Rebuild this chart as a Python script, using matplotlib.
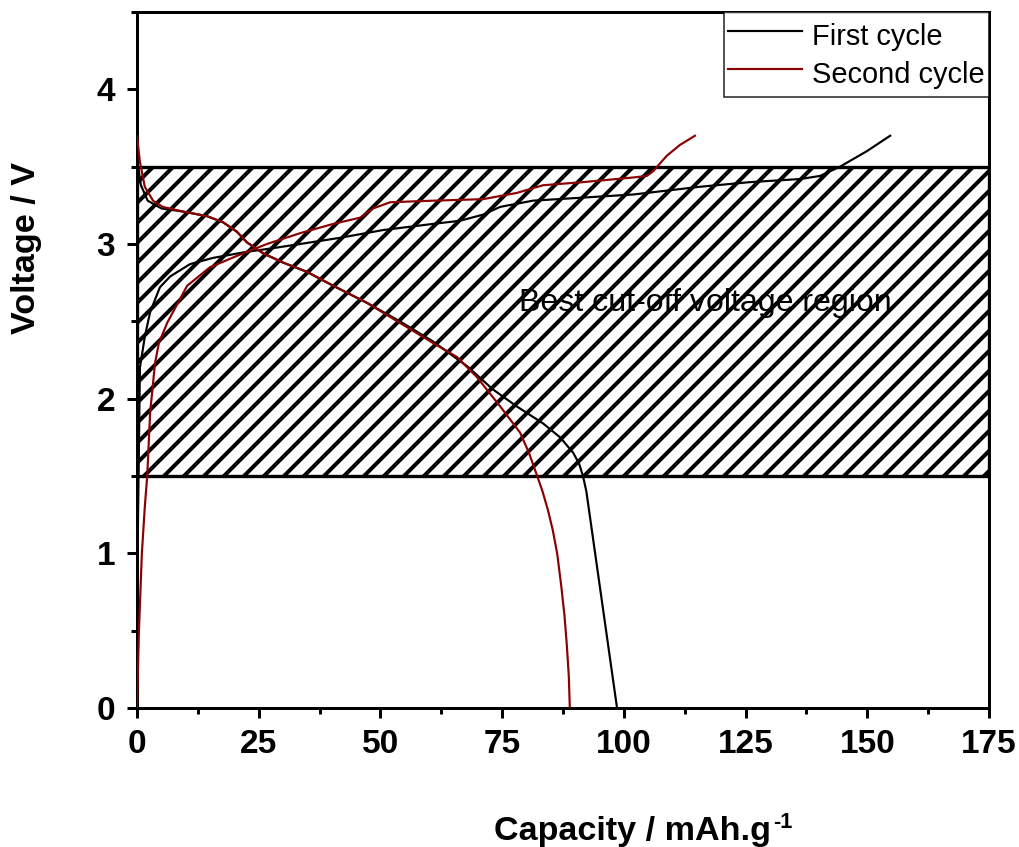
import numpy as np
import matplotlib
matplotlib.use('Agg')
import matplotlib.pyplot as plt
from matplotlib.patches import Rectangle
from matplotlib.ticker import MultipleLocator

plt.rcParams['font.family'] = ['Liberation Sans', 'DejaVu Sans']
plt.rcParams['hatch.linewidth'] = 2.4

# first cycle, charge and discharge (mAh/g, V)
cap1_chg = [0, 0.2, 0.6, 1.6, 2.7, 4.7, 6.8, 10.9, 15.6, 19.1, 22.6, 27.3, 33.5,
            41.7, 50.5, 60.8, 66.3, 71.1, 74.6, 81.3, 91.6, 101.9, 115.6, 125.9,
            136.2, 140.3, 144.4, 149.9, 154.7]
v1_chg = [0, 1.2, 2.2, 2.4, 2.56, 2.72, 2.79, 2.87, 2.91, 2.93, 2.95, 2.97, 3.0,
          3.04, 3.09, 3.13, 3.15, 3.19, 3.24, 3.28, 3.3, 3.32, 3.37, 3.4,
          3.42, 3.44, 3.5, 3.6, 3.7]
cap1_dis = [0, 0.8, 2.2, 5.0, 9.4, 14.4, 17.7, 20.5, 22.6, 25.9, 30.0, 34.9,
            40.3, 47.2, 54.0, 60.8, 64.3, 67.8, 73.1, 78.0, 83.4, 86.9, 89.6,
            90.8, 91.6, 92.3, 94.1, 96.35, 98.6]
v1_dis = [3.55, 3.38, 3.28, 3.23, 3.21, 3.18, 3.14, 3.08, 3.01, 2.94, 2.88, 2.82,
          2.73, 2.62, 2.5, 2.37, 2.29, 2.21, 2.06, 1.95, 1.84, 1.75, 1.65,
          1.58, 1.5, 1.4, 1.0, 0.5, 0]

# second cycle
cap2_chg = [0, 0.4, 1.0, 1.6, 2.1, 2.7, 3.7, 4.5, 6.2, 10.3, 15.0, 21.8, 26.7,
            33.5, 40.3, 45.8, 48.5, 52.0, 60.8, 71.1, 78.0, 83.4, 91.6, 101.9,
            104.7, 106.0, 108.8, 111.5, 114.6]
v2_chg = [0, 0.5, 1.0, 1.3, 1.5, 1.91, 2.23, 2.36, 2.49, 2.73, 2.85, 2.94, 3.0,
          3.07, 3.13, 3.17, 3.23, 3.27, 3.28, 3.29, 3.33, 3.38, 3.4, 3.43,
          3.44, 3.47, 3.57, 3.64, 3.7]
cap2_dis = [0, 0.6, 1.6, 3.3, 5.3, 9.4, 14.4, 17.7, 20.5, 22.6, 25.9, 30.0, 34.9,
            40.3, 47.2, 54.0, 60.8, 65.7, 69.8, 74.6, 78.7, 80.5, 82.2, 83.3,
            84.4, 85.4, 86.3, 87.1, 87.8, 88.3, 88.7, 88.9]
v2_dis = [3.7, 3.53, 3.37, 3.28, 3.24, 3.21, 3.18, 3.14, 3.08, 3.01, 2.94, 2.88,
          2.82, 2.73, 2.62, 2.49, 2.36, 2.27, 2.14, 1.95, 1.78, 1.65, 1.5, 1.4,
          1.28, 1.15, 1.0, 0.8, 0.6, 0.4, 0.2, 0]

band = (1.5, 3.5)

dpi = 120
W, H = 1019, 847
fig = plt.figure(figsize=(W / dpi, H / dpi), dpi=dpi)
ax = fig.add_axes([137 / W, 1 - 708 / H, (989 - 137) / W, (708 - 12) / H])

ax.text(116.7, 2.62, 'Best cut-off voltage region', fontsize=19.3,
        ha='center', va='center', zorder=1)
ax.add_patch(Rectangle((0, band[0]), 175, band[1] - band[0], fill=False,
                       hatch='//', edgecolor='black', lw=2.0, zorder=2))

c1 = 'black'
c2 = '#8b0000'
ax.plot(cap1_chg, v1_chg, color=c1, lw=1.3, zorder=3, label='First cycle')
ax.plot(cap1_dis, v1_dis, color=c1, lw=1.3, zorder=3)
ax.plot(cap2_chg, v2_chg, color=c2, lw=1.3, zorder=3, label='Second cycle')
ax.plot(cap2_dis, v2_dis, color=c2, lw=1.3, zorder=3)

ax.set_xlim(0, 175)
ax.set_ylim(0, 4.5)
ax.xaxis.set_major_locator(MultipleLocator(25))
ax.xaxis.set_minor_locator(MultipleLocator(12.5))
ax.yaxis.set_major_locator(MultipleLocator(1))
ax.yaxis.set_minor_locator(MultipleLocator(0.5))
for s in ax.spines.values():
    s.set_linewidth(1.8)
ax.tick_params(which='major', direction='out', length=6, width=1.8,
               labelsize=20)
ax.tick_params(which='minor', direction='out', length=3.6, width=1.8)
ax.tick_params(axis='x', which='major', pad=6.5)
ax.tick_params(axis='y', which='major', pad=7)
for lab in ax.get_xticklabels() + ax.get_yticklabels():
    lab.set_fontweight('bold')

# x label with a small hyphen-style superscript
xl = fig.text(494 / W, 1 - 840 / H, 'Capacity / mAh.g', fontsize=20.5,
              fontweight='bold', ha='left', va='baseline')
bb = xl.get_window_extent(fig.canvas.get_renderer())
fig.text((bb.x1 + 2) / W, 1 - 828 / H, '-1', fontsize=13,
         fontweight='bold', ha='left', va='baseline')

fig.text(27 / W, 1 - 248 / H, 'Voltage / V', fontsize=20.5,
         fontweight='bold', rotation=90, ha='center', va='center')

leg = ax.legend(loc='upper right', fontsize=17.4, frameon=True, fancybox=False,
                borderaxespad=0, borderpad=0.15, handlelength=2.55,
                handleheight=1.65, handletextpad=0.35, labelspacing=0.0)
leg.get_frame().set_edgecolor('black')
leg.get_frame().set_linewidth(1.0)
leg.set_zorder(5)

fig.savefig('out.png', dpi=dpi)
